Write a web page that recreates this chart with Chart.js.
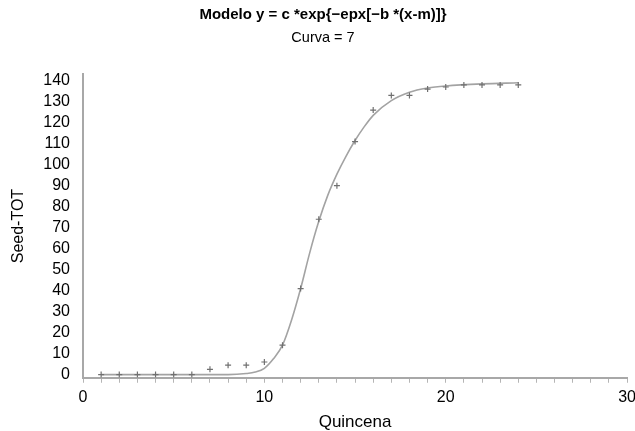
<!DOCTYPE html>
<html>
<head>
<meta charset="utf-8">
<script src="https://cdn.jsdelivr.net/npm/chart.js@4"></script>
<style>
  html, body { margin: 0; padding: 0; background: #fff; overflow: hidden; }
  #wrap { width: 635px; height: 431px; overflow: hidden; }
</style>
</head>
<body>
<div id="wrap"><canvas id="grafico" width="642" height="431"></canvas></div>
<script>
// observaciones (quincena, Seed-TOT)
const quincenas = [1, 2, 3, 4, 5, 6, 7, 8, 9, 10, 11, 12, 13, 14, 15, 16, 17, 18, 19, 20, 21, 22, 23, 24];
const seedTot = [0, 0, 0, 0, 0, 0, 2.5, 4.5, 4.5, 6, 14, 41, 74, 90, 111, 126, 133, 133, 136, 137, 138, 138, 138, 138];

// curva ajustada
const curvaX = [1, 8, 9, 9.5, 10, 10.5, 11, 11.5, 12, 12.5, 13, 13.5, 14, 14.5, 15, 15.5, 16, 17, 18, 19, 20, 22, 24];
const curvaY = [0, 0, 0.5, 1.2, 3, 7.5, 14, 26, 41, 58, 73, 85.5, 95.5, 104, 111.5, 118, 123.5, 130.5, 134.5, 136.5, 137.5, 138.5, 139];

const ticksY = [0, 10, 20, 30, 40, 50, 60, 70, 80, 90, 100, 110, 120, 130, 140];
const ticksX = [0, 10, 20, 30];

const fuente = "'Liberation Sans', Arial, sans-serif";

const puntos = quincenas.map((q, i) => ({ x: q, y: seedTot[i] }));
const curva = curvaX.map((q, i) => ({ x: q, y: curvaY[i] }));

const ctx = document.getElementById("grafico").getContext("2d");
new Chart(ctx, {
  type: "scatter",
  data: {
    datasets: [
      {
        label: "curva",
        data: curva,
        showLine: true,
        borderColor: "#a3a3a3",
        borderWidth: 1.6,
        pointRadius: 0,
        cubicInterpolationMode: "monotone",
        order: 2
      },
      {
        label: "Seed-TOT",
        data: puntos,
        pointStyle: "cross",
        pointRadius: 3,
        borderColor: "#707070",
        borderWidth: 1.2,
        order: 1
      }
    ]
  },
  options: {
    responsive: false,
    animation: false,
    layout: { padding: { left: 4, right: 0, top: 0, bottom: 0 } },
    plugins: {
      legend: { display: false },
      tooltip: { enabled: false },
      title: {
        display: true,
        text: "Modelo y = c *exp{\u2212epx[\u2212b *(x-m)]}",
        color: "#000",
        font: { family: fuente, size: 15, weight: "bold" },
        padding: { top: 6, bottom: 5 }
      },
      subtitle: {
        display: true,
        text: "Curva = 7",
        color: "#000",
        font: { family: fuente, size: 14.5 },
        padding: { top: 0, bottom: 28 }
      }
    },
    scales: {
      x: {
        type: "linear",
        min: 0,
        max: 30,
        afterBuildTicks: (s) => {
          const t = [];
          for (let v = 0; v <= 30; v++) t.push({ value: v });
          s.ticks = t;
        },
        ticks: {
          autoSkip: false,
          maxRotation: 0,
          color: "#000",
          padding: 6,
          font: { family: fuente, size: 16, lineHeight: 1.15 },
          callback: (v) => (ticksX.includes(v) ? String(v) : "")
        },
        grid: { drawOnChartArea: false, drawTicks: true, tickLength: 5, color: "#b5b5b5" },
        border: { display: true, color: "#a8a8a8", width: 2 },
        title: {
          display: true,
          text: "Quincena",
          color: "#000",
          font: { family: fuente, size: 17, lineHeight: 1.05 },
          padding: { top: 0, bottom: 0 }
        }
      },
      y: {
        type: "linear",
        min: -1.5,
        max: 143,
        afterBuildTicks: (s) => {
          s.ticks = ticksY.map((v) => ({ value: v }));
        },
        afterFit: (s) => { s.width = 79; },
        ticks: {
          autoSkip: false,
          color: "#000",
          padding: 5,
          font: { family: fuente, size: 16 }
        },
        grid: { display: false },
        border: { display: true, color: "#a8a8a8", width: 2 },
        title: {
          display: true,
          text: "Seed-TOT",
          color: "#000",
          font: { family: fuente, size: 16 },
          padding: { top: 5, bottom: 0 }
        }
      }
    }
  }
});
</script>
</body>
</html>
